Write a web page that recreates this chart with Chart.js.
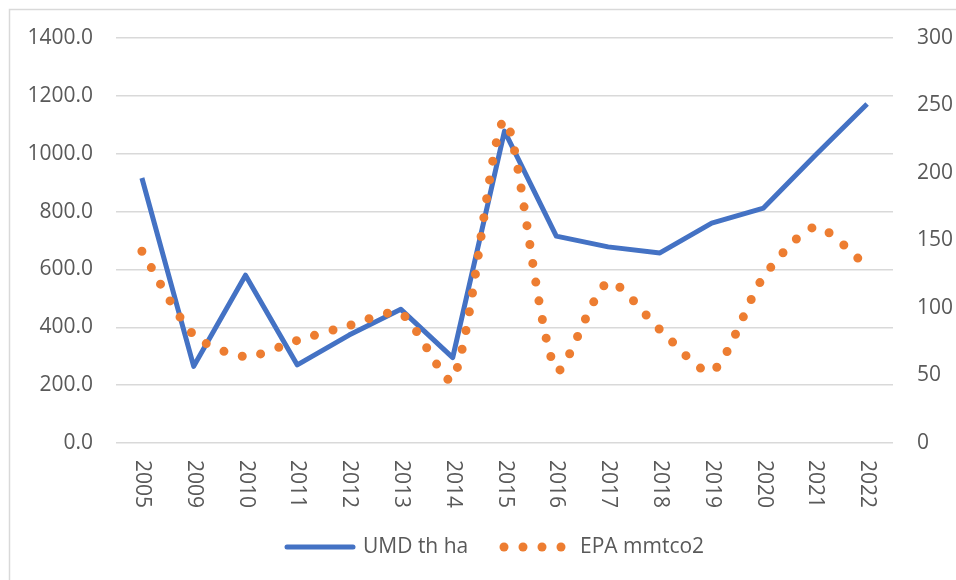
<!DOCTYPE html>
<html>
<head>
<meta charset="utf-8">
<script src="https://cdn.jsdelivr.net/npm/chart.js@4"></script>
<style>
  body { margin: 0; background: #fff; }
  #wrap { width: 956px; height: 580px; position: relative; }
</style>
</head>
<body>
<div id="wrap"><canvas id="chart"></canvas></div>
<script>
// данные
const years = ['2005', '2009', '2010', '2011', '2012', '2013', '2014', '2015', '2016', '2017', '2018', '2019', '2020', '2021', '2022'];
const umdValues = [916, 265, 580, 270, 373, 462, 295, 1078, 715, 678, 657, 760, 812, 995, 1172];
const epaValues = [142, 80, 64, 76, 87, 96, 47, 239, 54, 119, 84, 53, 123, 160, 131];
const leftTicks = [0, 200, 400, 600, 800, 1000, 1200, 1400];
const rightTicks = [0, 50, 100, 150, 200, 250, 300];
const seriesNames = ['UMD th ha', 'EPA mmtco2'];

const textColor = '#595959';
const fontFamily = '"Open Sans", "Noto Sans", sans-serif';

// подписи оси X (повёрнуты по часовой), рамка и легенда
const excelLook = {
    id: 'excelLook',
    beforeDraw(chart) {
        const ctx = chart.ctx;
        ctx.save();
        ctx.strokeStyle = '#d9d9d9';
        ctx.lineWidth = 1.5;
        ctx.beginPath();
        ctx.moveTo(9.5, chart.height);
        ctx.lineTo(9.5, 9.5);
        ctx.lineTo(chart.width, 9.5);
        ctx.stroke();
        ctx.restore();
    },
    afterDraw(chart) {
        const ctx = chart.ctx;
        const xScale = chart.scales.x;
        ctx.save();
        ctx.fillStyle = textColor;
        ctx.font = '21px ' + fontFamily;
        ctx.textAlign = 'left';
        ctx.textBaseline = 'middle';
        years.forEach((label, i) => {
            const x = xScale.getPixelForTick(i);
            ctx.save();
            ctx.translate(x, chart.chartArea.bottom + 17);
            ctx.rotate(Math.PI / 2);
            ctx.fillText(label, 0, 0);
            ctx.restore();
        });

        // легенда
        const ly = 547;
        ctx.strokeStyle = '#4472c4';
        ctx.lineWidth = 5;
        ctx.lineCap = 'round';
        ctx.beginPath();
        ctx.moveTo(287, ly);
        ctx.lineTo(353, ly);
        ctx.stroke();
        ctx.fillText(seriesNames[0], 363, ly);

        ctx.fillStyle = '#ed7d31';
        [504, 523, 542, 561].forEach(cx => {
            ctx.beginPath();
            ctx.arc(cx, ly, 4.5, 0, Math.PI * 2);
            ctx.fill();
        });
        ctx.fillStyle = textColor;
        ctx.fillText(seriesNames[1], 580, ly);
        ctx.restore();
    }
};

new Chart(document.getElementById('chart'), {
    type: 'line',
    data: {
        labels: years,
        datasets: [{
            label: seriesNames[0],
            data: umdValues,
            yAxisID: 'y',
            borderColor: '#4472c4',
            borderWidth: 5,
            borderJoinStyle: 'round',
            pointRadius: 0,
            tension: 0,
            order: 1
        }, {
            label: seriesNames[1],
            data: epaValues,
            yAxisID: 'y1',
            borderColor: '#ed7d31',
            borderWidth: 9,
            borderDash: [0, 19],
            borderCapStyle: 'round',
            pointRadius: 0,
            tension: 0.25,
            order: 0
        }]
    },
    options: {
        responsive: true,
        maintainAspectRatio: false,
        animation: false,
        layout: { padding: { left: 10, right: 0, top: 38, bottom: 0 } },
        plugins: {
            legend: { display: false },
            tooltip: { enabled: false }
        },
        scales: {
            x: {
                offset: true,
                grid: { display: false },
                border: { display: false },
                ticks: { display: false },
                afterFit: s => { s.height = 137; }
            },
            y: {
                position: 'left',
                min: leftTicks[0],
                max: leftTicks[leftTicks.length - 1],
                afterBuildTicks: s => { s.ticks = leftTicks.map(v => ({ value: v })); },
                ticks: {
                    padding: 23,
                    color: textColor,
                    font: { family: fontFamily, size: 21 },
                    callback: v => Number(v).toFixed(1)
                },
                grid: { color: '#d9d9d9', lineWidth: 1.5, drawTicks: false },
                border: { display: false },
                afterFit: s => { s.width = 106; }
            },
            y1: {
                position: 'right',
                min: rightTicks[0],
                max: rightTicks[rightTicks.length - 1],
                afterBuildTicks: s => { s.ticks = rightTicks.map(v => ({ value: v })); },
                ticks: {
                    padding: 24,
                    color: textColor,
                    font: { family: fontFamily, size: 21 }
                },
                grid: { display: false, drawTicks: false },
                border: { display: false },
                afterFit: s => { s.width = 63; }
            }
        }
    },
    plugins: [excelLook]
});
</script>
</body>
</html>
